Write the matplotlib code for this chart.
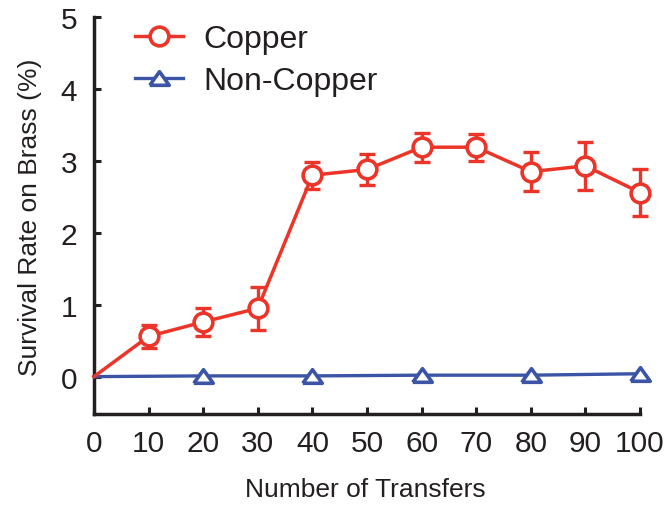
import matplotlib
matplotlib.use("Agg")
import matplotlib.pyplot as plt

transfers = [0, 10, 20, 30, 40, 50, 60, 70, 80, 90, 100]
copper = [0.0, 0.56, 0.76, 0.95, 2.80, 2.88, 3.19, 3.19, 2.85, 2.93, 2.56]
copper_err = [0.0, 0.16, 0.20, 0.30, 0.19, 0.22, 0.20, 0.19, 0.27, 0.33, 0.33]

non_transfers = [0, 20, 40, 60, 80, 100]
non_copper = [0.0, 0.01, 0.01, 0.02, 0.02, 0.04]

x_ticks = [0, 10, 20, 30, 40, 50, 60, 70, 80, 90, 100]
y_ticks = [0, 1, 2, 3, 4, 5]

RED = "#EC3528"
BLUE = "#3B54A5"
DARK = "#231F20"

plt.rcParams["font.family"] = ["Liberation Sans", "DejaVu Sans"]

# flatter triangle than matplotlib's "^"
flat_triangle = [(-1, -0.7), (1, -0.7), (0, 0.7), (-1, -0.7)]


def plot_survival():
    fig = plt.figure(figsize=(6.67, 5.06), dpi=100)
    ax = fig.add_axes([0.1409, 0.1798, 0.8186, 0.7846])

    ax.plot(non_transfers, non_copper, color=BLUE, lw=2.4, marker=flat_triangle,
            markersize=14, markerfacecolor="white", markeredgecolor=BLUE,
            markeredgewidth=2.6, markevery=list(range(1, len(non_transfers))),
            clip_on=False, zorder=3, label="Non-Copper")

    ax.errorbar(transfers[1:], copper[1:], yerr=copper_err[1:], fmt="none",
                ecolor=RED, elinewidth=2.4, capsize=6, capthick=2.4,
                clip_on=False, zorder=4)
    ax.plot(transfers, copper, color=RED, lw=2.5, marker="o",
            markersize=13.5, markerfacecolor="white", markeredgecolor=RED,
            markeredgewidth=2.6, markevery=list(range(1, len(transfers))),
            clip_on=False, zorder=5, label="Copper")

    ax.set_xlim(0, 100)
    ax.set_ylim(-0.52, 5)
    ax.set_xticks(x_ticks)
    ax.set_yticks(y_ticks)

    for side in ["top", "right"]:
        ax.spines[side].set_visible(False)
    for side in ["left", "bottom"]:
        ax.spines[side].set_linewidth(2.5)
        ax.spines[side].set_color(DARK)
        ax.spines[side].set_capstyle("projecting")

    ax.tick_params(direction="in", length=5, width=2.2, color=DARK,
                   labelsize=21.5, labelcolor=DARK)
    ax.tick_params(axis="x", pad=11)
    ax.tick_params(axis="y", pad=12)

    ax.set_xlabel("Number of Transfers", fontsize=19, color=DARK)
    ax.set_ylabel("Survival Rate on Brass (%)", fontsize=19, color=DARK)
    ax.xaxis.set_label_coords(0.497, -0.158)
    ax.yaxis.set_label_coords(-0.095, 0.497)

    handles, labels = ax.get_legend_handles_labels()
    ax.legend(handles[::-1], labels[::-1], loc="upper left",
              bbox_to_anchor=(0.075, 0.982), frameon=False, fontsize=23,
              handlelength=1.5, handletextpad=0.65, labelspacing=0.38,
              borderpad=0, borderaxespad=0, labelcolor=DARK)

    fig.savefig("out.png", dpi=100)


def main():
    plot_survival()


if __name__ == "__main__":
    main()
